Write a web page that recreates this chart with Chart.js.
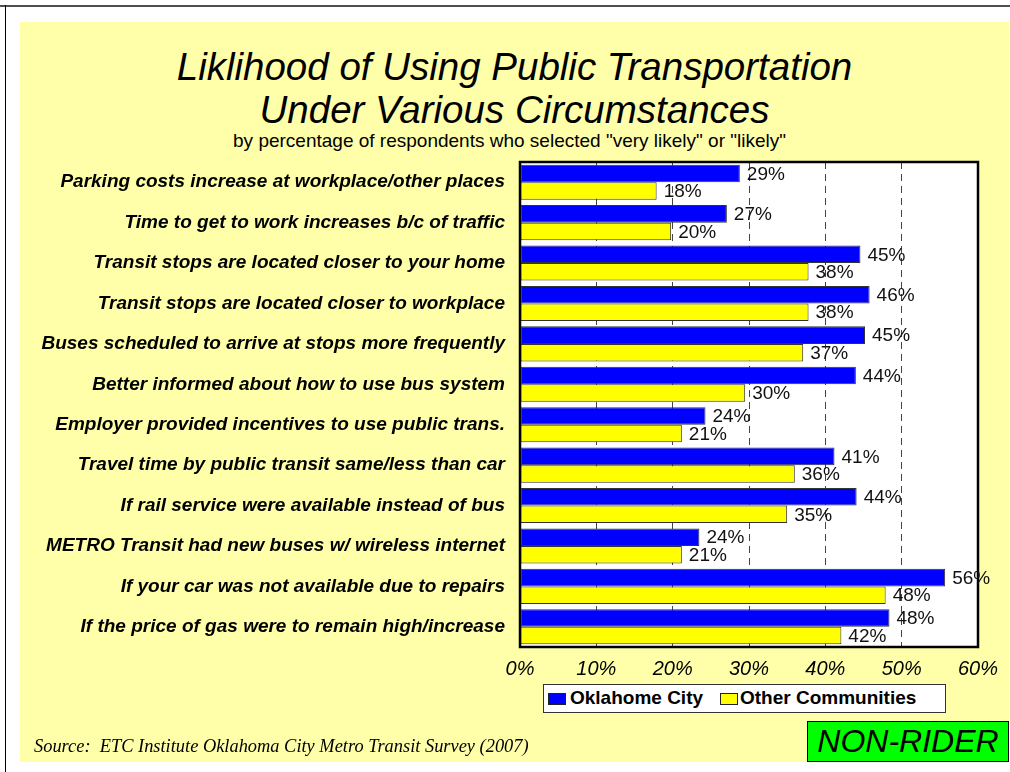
<!DOCTYPE html>
<html>
<head>
<meta charset="utf-8">
<script src="https://cdn.jsdelivr.net/npm/chart.js@4"></script>
<style>
  html, body { margin:0; padding:0; background:#fff; }
  body { width:1010px; height:772px; position:relative; overflow:hidden; font-family:"Liberation Sans", Arial, sans-serif; }
  .abs { position:absolute; }
  #topline { left:0; top:5px; width:1010px; height:2px; background:#505050; }
  #leftline { left:5px; top:5px; width:1px; height:767px; background:#000; }
  #panel { left:20px; top:22px; width:989px; height:740px; background:#FFFFAA; }
  #title { left:20px; top:46px; width:989px; text-align:center; font-style:italic; font-size:38.5px; line-height:42.6px; color:#000; }
  #subtitle { left:20px; top:130px; width:979px; text-align:center; font-size:19px; line-height:22px; color:#000; }
  #source { left:34px; top:736px; font-family:"Liberation Serif", "Times New Roman", serif; font-style:italic; font-size:18.4px; line-height:21px; color:#000; white-space:nowrap; }
  #nonrider { left:807px; top:721px; width:202px; height:41px; box-sizing:border-box; border:1px solid #000; background:#00FF00; text-align:center; font-style:italic; font-size:32px; line-height:39px; color:#000; }
  #legend { left:543px; top:684px; width:403px; height:29px; box-sizing:border-box; background:#fff; border:1px solid #333; }
  .sw { position:absolute; top:8px; width:18px; height:12px; box-sizing:border-box; border:1px solid #222; }
  .lt { position:absolute; top:2px; font-weight:bold; font-size:19px; line-height:22px; color:#000; white-space:nowrap; }
  #chart { position:absolute; left:0; top:0; }
</style>
</head>
<body>
<div class="abs" id="topline"></div>
<div class="abs" id="leftline"></div>
<div class="abs" id="panel"></div>
<div class="abs" id="title">Liklihood of Using Public Transportation<br>Under Various Circumstances</div>
<div class="abs" id="subtitle">by percentage of respondents who selected "very likely" or "likely"</div>
<canvas id="chart" width="1010" height="772"></canvas>
<div class="abs" id="legend">
  <div class="sw" id="sw1" style="left:4px;background:#0000FF"></div>
  <div class="lt" id="lt1" style="left:26px">Oklahome City</div>
  <div class="sw" id="sw2" style="left:176px;background:#FFFF00"></div>
  <div class="lt" id="lt2" style="left:196px">Other Communities</div>
</div>
<div class="abs" id="source">Source:&nbsp; ETC Institute Oklahoma City Metro Transit Survey (2007)</div>
<div class="abs" id="nonrider">NON-RIDER</div>
<script>
const categories = [
  "Parking costs increase at workplace/other places",
  "Time to get to work increases b/c of traffic",
  "Transit stops are located closer to your home",
  "Transit stops are located closer to workplace",
  "Buses scheduled to arrive at stops more frequently",
  "Better informed about how to use bus system",
  "Employer provided incentives to use public trans.",
  "Travel time by public transit same/less than car",
  "If rail service were available instead of bus",
  "METRO Transit had new buses w/ wireless internet",
  "If your car was not available due to repairs",
  "If the price of gas were to remain high/increase"
];
const seriesNames = ["Oklahome City", "Other Communities"];
const oklahomaCity = [28.8, 27.1, 44.6, 45.8, 45.2, 44.0, 24.3, 41.2, 44.1, 23.5, 55.7, 48.4];
const otherCommunities = [17.9, 19.8, 37.8, 37.8, 37.1, 29.5, 21.2, 36.0, 35.0, 21.2, 47.9, 42.1];
const xTicks = [0, 10, 20, 30, 40, 50, 60];

const FONT = '"Liberation Sans", Arial, sans-serif';

const plotFrame = {
  id: 'plotFrame',
  beforeDraw(chart) {
    const a = chart.chartArea, ctx = chart.ctx;
    ctx.save();
    ctx.fillStyle = '#ffffff';
    ctx.fillRect(a.left, a.top, a.right - a.left, a.bottom - a.top);
    ctx.restore();
  },
  afterDatasetsDraw(chart) {
    const a = chart.chartArea, ctx = chart.ctx;
    ctx.save();
    ctx.strokeStyle = '#000';
    ctx.lineWidth = 2.5;
    ctx.strokeRect(a.left, a.top, a.right - a.left, a.bottom - a.top);
    ctx.font = '19px ' + FONT;
    ctx.fillStyle = '#111';
    ctx.textAlign = 'left';
    ctx.textBaseline = 'middle';
    chart.data.datasets.forEach((ds, di) => {
      const meta = chart.getDatasetMeta(di);
      meta.data.forEach((bar, i) => {
        ctx.fillText(Math.round(ds.data[i]) + '%', bar.x + 7, bar.y + 1);
      });
    });
    ctx.restore();
  }
};

new Chart(document.getElementById('chart'), {
  type: 'bar',
  data: {
    labels: categories,
    datasets: [
      { label: seriesNames[0], data: oklahomaCity, backgroundColor: '#0000FF', borderColor: '#333', borderWidth: 1, borderSkipped: false },
      { label: seriesNames[1], data: otherCommunities, backgroundColor: '#FFFF00', borderColor: '#333', borderWidth: 1, borderSkipped: false }
    ]
  },
  options: {
    indexAxis: 'y',
    responsive: false,
    animation: false,
    events: [],
    layout: { padding: { left: 0, top: 162, right: 32, bottom: 85 } },
    datasets: { bar: { barPercentage: 1.0, categoryPercentage: 0.866 } },
    plugins: { legend: { display: false }, tooltip: { enabled: false } },
    scales: {
      x: {
        type: 'linear', min: 0, max: 60,
        afterBuildTicks(scale) { scale.ticks = xTicks.map(v => ({ value: v })); },
        afterFit(scale) { scale.height = 40; },
        grid: { display: true, drawTicks: false, color: '#444', lineWidth: 1 },
        border: { display: false, dash: [7, 5] },
        ticks: { padding: 10, color: '#000', font: { family: FONT, size: 20, style: 'italic' }, callback: v => v + '%', maxRotation: 0, autoSkip: false }
      },
      y: {
        afterFit(scale) { scale.width = 520; },
        grid: { display: false },
        border: { display: false },
        ticks: { padding: 7, color: '#000', font: { family: FONT, size: 19, style: 'italic', weight: 'bold' }, autoSkip: false }
      }
    }
  },
  plugins: [plotFrame]
});
</script>
</body>
</html>
